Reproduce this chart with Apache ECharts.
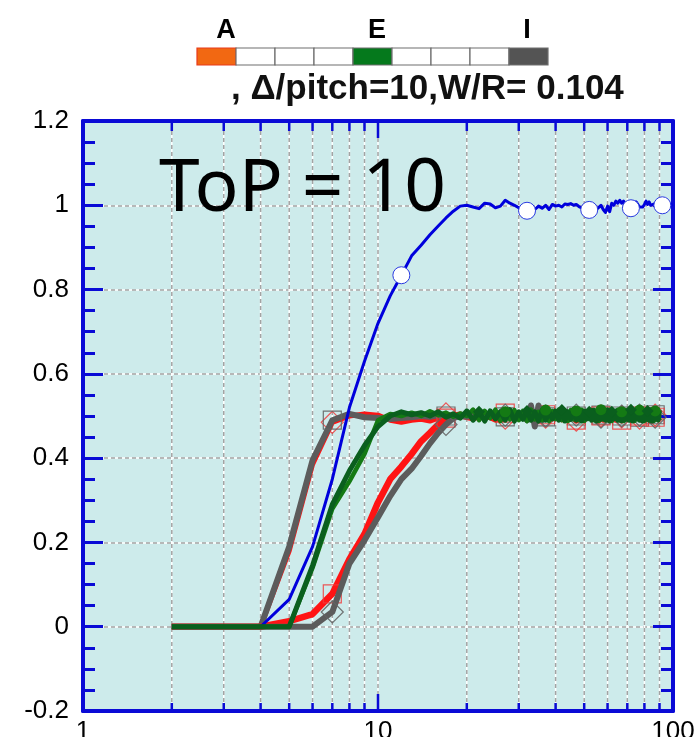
<!DOCTYPE html>
<html><head><meta charset="utf-8">
<script src="https://cdn.jsdelivr.net/npm/echarts@6/dist/echarts.min.js"></script>
<style>html,body{margin:0;padding:0;background:#fff}#c{width:698px;height:737px}</style>
</head><body><div id="c"></div>
<script>
// ---- data ----
const xs = [2,3,4,5,6,7,8,9,10,
11,12,13,14,15,16,17,18,19,20,
21,22,23,24,25,26,27,28,29,30,
31,32,33,34,35,36,37,38,39,40,
41,42,43,44,45,46,47,48,49,50,
51,52,53,54,55,56,57,58,59,60,
61,62,63,64,65,66,67,68,69,70,
71,72,73,74,75,76,77,78,79,80,
81,82,83,84,85,86,87,88,89,90,
91,92,93,94,95,96,97,98,99,100];

const blueTotal = [0,0,0,0.065,0.19,0.35,0.52,0.63,0.72,
0.785,0.834,0.88,0.905,0.93,0.951,0.97,0.986,0.998,1.0,
0.996,0.992,1.005,1.003,0.994,0.998,1.012,1.005,1.0,0.994,
0.99,0.987,0.995,0.99,0.998,0.993,1.0,0.99,1.002,0.998,
1.0,0.996,1.003,1.002,1.004,1.0,1.002,0.997,0.994,0.992,
0.99,0.989,0.992,0.995,0.99,0.995,1.0,0.99,0.983,0.998,
0.985,1.005,1.0,1.01,1.005,1.012,1.005,1.01,1.0,0.997,
0.993,0.993,0.996,1.0,1.008,1.004,0.996,1.0,0.996,1.002,
1.01,1.002,1.008,1.0,0.998,1.003,1.006,1.0,1.004,1.002,
1.0,1.0,1.004,1.002,1.0,1.004,1.002,1.0,1.003,1.002];

const redEarly = [0,0,0,0.18,0.385,0.485,0.5,0.505,0.502,
0.49,0.485,0.49,0.492,0.488,0.495,0.505,0.5,0.498,0.502,
0.5,0.495,0.498,0.505,0.5,0.49,0.495,0.505,0.5,0.496,
0.5,0.504,0.498,0.492,0.5,0.506,0.497,0.5,0.494,0.5,
0.503,0.497,0.5,0.508,0.495,0.5,0.49,0.498,0.505,0.5,
0.496,0.502,0.5,0.494,0.505,0.498,0.5,0.49,0.5,0.506,
0.5,0.495,0.502,0.49,0.5,0.508,0.498,0.493,0.5,0.505,
0.497,0.5,0.49,0.502,0.5,0.51,0.495,0.5,0.498,0.504,
0.5,0.492,0.5,0.506,0.498,0.49,0.502,0.5,0.495,0.505];

const grayEarly = [0,0,0,0.19,0.395,0.49,0.505,0.497,0.495,
0.493,0.495,0.497,0.5,0.498,0.502,0.5,0.497,0.5,0.503,
0.498,0.5,0.502,0.497,0.5,0.504,0.498,0.5,0.497,0.502,
0.5,0.505,0.515,0.485,0.515,0.5,0.498,0.502,0.5,0.497,
0.5,0.503,0.498,0.5,0.502,0.496,0.5,0.503,0.498,0.5,
0.502,0.5,0.497,0.503,0.5,0.498,0.502,0.5,0.496,0.503,
0.5,0.498,0.502,0.5,0.497,0.503,0.5,0.498,0.502,0.5,
0.497,0.502,0.5,0.498,0.503,0.5,0.497,0.502,0.5,0.498,
0.503,0.5,0.497,0.502,0.5,0.498,0.503,0.5,0.497,0.502];

const redLate = [0,0,0,0.013,0.03,0.078,0.16,0.22,0.295,
0.35,0.38,0.41,0.44,0.46,0.48,0.495,0.5,0.503,0.498,
0.495,0.5,0.505,0.498,0.492,0.5,0.507,0.5,0.494,0.5,
0.503,0.497,0.505,0.49,0.5,0.495,0.503,0.5,0.496,0.505,
0.5,0.493,0.5,0.505,0.497,0.5,0.49,0.503,0.5,0.497,
0.506,0.5,0.495,0.5,0.503,0.49,0.5,0.505,0.497,0.5,
0.494,0.503,0.5,0.497,0.505,0.5,0.49,0.502,0.5,0.496,
0.505,0.5,0.494,0.5,0.507,0.497,0.5,0.492,0.503,0.5,
0.496,0.505,0.5,0.49,0.5,0.503,0.497,0.505,0.5,0.495];

const grayLate = [0,0,0,0,0,0.035,0.15,0.205,0.26,
0.31,0.35,0.375,0.405,0.435,0.46,0.48,0.495,0.5,0.498,
0.502,0.5,0.497,0.503,0.5,0.496,0.502,0.5,0.498,0.503,
0.5,0.49,0.525,0.475,0.525,0.49,0.5,0.503,0.497,0.5,
0.502,0.498,0.5,0.503,0.497,0.5,0.502,0.498,0.5,0.503,
0.497,0.5,0.502,0.498,0.5,0.503,0.497,0.5,0.502,0.498,
0.5,0.503,0.497,0.5,0.502,0.498,0.5,0.503,0.497,0.5,
0.502,0.498,0.5,0.503,0.497,0.5,0.502,0.498,0.5,0.503,
0.497,0.5,0.502,0.498,0.5,0.503,0.497,0.5,0.502,0.498];

const greenA = [0,0,0,0,0.14,0.28,0.345,0.41,0.49,
0.505,0.5,0.508,0.5,0.511,0.502,0.508,0.498,0.506,0.5,
0.515,0.49,0.512,0.495,0.515,0.488,0.51,0.492,0.514,0.49,
0.512,0.488,0.515,0.492,0.51,0.49,0.514,0.488,0.512,0.493,
0.515,0.49,0.51,0.488,0.514,0.492,0.512,0.49,0.515,0.488,
0.51,0.493,0.514,0.49,0.512,0.488,0.515,0.492,0.51,0.49,
0.514,0.488,0.512,0.493,0.515,0.49,0.51,0.488,0.514,0.492,
0.512,0.49,0.515,0.488,0.51,0.493,0.514,0.49,0.512,0.488,
0.515,0.492,0.51,0.49,0.514,0.488,0.512,0.493,0.515,0.49];

const greenB = [0,0,0,0,0.145,0.29,0.37,0.43,0.475,
0.5,0.51,0.503,0.508,0.5,0.51,0.497,0.505,0.495,0.512,
0.49,0.51,0.488,0.512,0.493,0.51,0.49,0.515,0.488,0.51,
0.492,0.512,0.49,0.51,0.488,0.514,0.49,0.51,0.493,0.512,
0.49,0.514,0.488,0.51,0.492,0.515,0.49,0.51,0.488,0.512,
0.493,0.51,0.49,0.514,0.488,0.51,0.492,0.512,0.49,0.515,
0.488,0.51,0.493,0.512,0.49,0.514,0.488,0.51,0.492,0.512,
0.49,0.515,0.488,0.51,0.493,0.512,0.49,0.514,0.488,0.51,
0.492,0.512,0.49,0.515,0.488,0.51,0.493,0.512,0.49,0.514];

const xGridTicks = [2,3,4,5,6,7,8,9,10,20,30,40,50,60,70,80,90];
const xMajorTicks = [10];
const legendLetters = ['A','E','I'];
const subtitle = ', \u0394/pitch=10,W/R= 0.104';
const bigLabel = 'ToP = 10';

// ---- styling ----
const Y_MIN = -0.2, Y_MAX = 1.2, Y_STEP = 0.2;
const BLUE = '#0a0ad6';
const FONT = '"Liberation Sans", Arial, sans-serif';

const chart = echarts.init(document.getElementById('c'), null, {renderer: 'canvas'});

function pts(arr) { return xs.map((x, i) => [x, arr[i]]); }
function markerEvery(start, step, shape) {
  return function (v, p) { return (p.dataIndex >= start && (p.dataIndex - start) % step === 0) ? shape : 'none'; };
}
function lineSeries(name, arr, color, width, sym, symSize, itemStyle, z) {
  return {
    type: 'line', name: name, data: pts(arr), xAxisIndex: 0, yAxisIndex: 0,
    symbol: sym, symbolSize: symSize, showAllSymbol: true, z: z,
    lineStyle: {color: color, width: width, join: 'round'},
    itemStyle: itemStyle, silent: true, emphasis: {disabled: true}, animation: false
  };
}

const hollowRed = {color: 'rgba(0,0,0,0)', borderColor: 'rgba(240,60,60,0.85)', borderWidth: 1.2};
const hollowGray = {color: 'rgba(0,0,0,0)', borderColor: 'rgba(100,100,100,0.9)', borderWidth: 1.2};

const boxColors = ['#f26812','#ffffff','#ffffff','#ffffff','#05791c','#ffffff','#ffffff','#ffffff','#545454'];
const graphics = boxColors.map((c, i) => ({
  type: 'rect', z: 10,
  shape: {x: 197 + i * 39, y: 48, width: 39, height: 17},
  style: {fill: c, stroke: i === 0 ? '#e83a1a' : '#6e6e6e', lineWidth: 1.2}
}));
const letterX = [226, 377, 527];
legendLetters.forEach((t, i) => graphics.push({
  type: 'text', z: 10, x: letterX[i], y: 31,
  style: {text: t, font: 'bold 27px ' + FONT, fill: '#000', align: 'center', textAlign: 'center', verticalAlign: 'middle', textVerticalAlign: 'middle'}
}));
graphics.push({
  type: 'text', z: 10, x: 231, y: 89,
  style: {text: subtitle, font: 'bold 35px ' + FONT, fill: '#111', align: 'left', textAlign: 'left', verticalAlign: 'middle', textVerticalAlign: 'middle'}
});
graphics.push({
  type: 'text', z: 10, x: 159, y: 190,
  style: {text: bigLabel, font: '73px "Noto Sans", sans-serif', fill: '#000', align: 'left', textAlign: 'left', verticalAlign: 'middle', textVerticalAlign: 'middle'}
});

const yBase = {type: 'value', min: Y_MIN, max: Y_MAX, interval: Y_STEP};
const option = {
  backgroundColor: '#ffffff',
  animation: false,
  grid: {left: 83, right: 25, top: 121, bottom: 26, containLabel: false, outerBoundsMode: 'none',
         show: true, backgroundColor: '#cdebeb', borderWidth: 0},
  xAxis: [
    {type: 'log', logBase: 10, min: 1, max: 100, position: 'bottom', z: 5,
     axisLine: {show: true, onZero: false, lineStyle: {color: BLUE, width: 4}},
     axisTick: {show: false}, splitLine: {show: false}, minorTick: {show: false},
     axisLabel: {show: true, color: '#000', fontSize: 26, fontFamily: FONT, margin: 8, formatter: v => String(Math.round(v))}},
    {type: 'log', logBase: 10, min: 1, max: 100, position: 'top', z: 5,
     axisLine: {show: true, onZero: false, lineStyle: {color: BLUE, width: 4}},
     axisTick: {show: false}, splitLine: {show: false}, axisLabel: {show: false}}
  ],
  yAxis: [
    Object.assign({}, yBase, {position: 'left', z: 5,
      axisLine: {show: true, onZero: false, lineStyle: {color: BLUE, width: 4}},
      axisTick: {show: true, inside: true, length: 20, lineStyle: {color: BLUE, width: 3}},
      minorTick: {show: true, splitNumber: 4, length: 12, lineStyle: {color: BLUE, width: 3}},
      splitLine: {show: false},
      axisLabel: {show: true, color: '#000', fontSize: 26, fontFamily: FONT, margin: 14}}),
    Object.assign({}, yBase, {position: 'right', z: 5,
      axisLine: {show: true, onZero: false, lineStyle: {color: BLUE, width: 4}},
      axisTick: {show: true, inside: true, length: 20, lineStyle: {color: BLUE, width: 3}},
      minorTick: {show: true, splitNumber: 4, length: 12, lineStyle: {color: BLUE, width: 3}},
      splitLine: {show: false}, axisLabel: {show: false}}),
    Object.assign({}, yBase, {position: 'left', z: 0,
      axisLine: {show: false}, axisTick: {show: false}, axisLabel: {show: false},
      splitLine: {show: true, lineStyle: {color: '#ffffff', width: 1.5, type: 'solid'}}}),
    Object.assign({}, yBase, {position: 'left', z: 1,
      axisLine: {show: false}, axisTick: {show: false}, axisLabel: {show: false},
      splitLine: {show: true, lineStyle: {color: '#a3a3a3', width: 1.5, type: [4, 3]}}})
  ],
  graphic: graphics,
  series: [
    {
      type: 'custom', xAxisIndex: 0, yAxisIndex: 0, z: 1, silent: true, clip: false,
      data: xGridTicks.map(v => [v, xMajorTicks.indexOf(v) >= 0 ? 1 : 0]),
      renderItem: function (params, api) {
        const x = api.value(0), major = api.value(1) === 1;
        const pb = api.coord([x, Y_MIN]);
        const pt = api.coord([x, Y_MAX]);
        return {type: 'group', children: [
          {type: 'line', shape: {x1: pb[0], y1: pb[1] - 2, x2: pt[0], y2: pt[1] + 2}, style: {stroke: '#ffffff', lineWidth: 1.5}},
          {type: 'line', shape: {x1: pb[0], y1: pb[1] - 2, x2: pt[0], y2: pt[1] + 2}, style: {stroke: '#a3a3a3', lineWidth: 1.5, lineDash: [4, 3]}},
          {type: 'line', shape: {x1: pb[0], y1: pb[1], x2: pb[0], y2: pb[1] - (major ? 17 : 8)}, style: {stroke: BLUE, lineWidth: 2.5}},
          {type: 'line', shape: {x1: pt[0], y1: pt[1], x2: pt[0], y2: pt[1] + (major ? 17 : 10)}, style: {stroke: BLUE, lineWidth: 2.5}}
        ]};
      }
    },
    lineSeries('A early', redEarly, '#ff1414', 5, markerEvery(5, 10, 'diamond'), 22, hollowRed, 2),
    lineSeries('I early', grayEarly, '#5c5c5c', 6, markerEvery(5, 10, 'rect'), 18, hollowGray, 3),
    lineSeries('A late', redLate, '#ff1414', 6.5, markerEvery(5, 10, 'rect'), 18, hollowRed, 4),
    lineSeries('I late', grayLate, '#5c5c5c', 6, markerEvery(5, 10, 'diamond'), 22, hollowGray, 5),
    lineSeries('total', blueTotal, '#0000dc', 3, markerEvery(10, 20, 'circle'), 17,
      {color: '#ffffff', borderColor: '#2a3ae0', borderWidth: 1}, 6),
    lineSeries('E a', greenA, '#147a14', 4.5, markerEvery(25, 10, 'circle'), 11, {color: '#147a14'}, 7),
    lineSeries('E b', greenB, '#0a5f1e', 5, markerEvery(20, 10, 'diamond'), 12, {color: '#0a5f1e'}, 7)
  ]
};
chart.setOption(option);
</script>
</body></html>
